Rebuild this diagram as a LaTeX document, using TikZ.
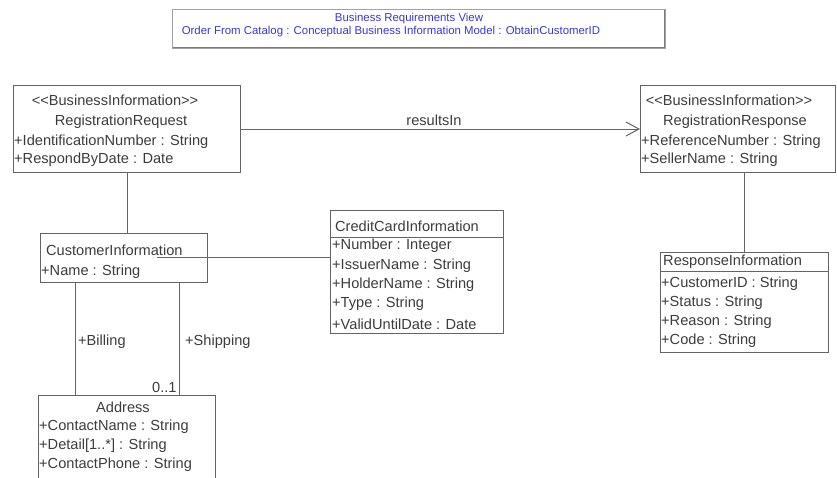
\documentclass[tikz,border=0pt]{standalone}
\usepackage{fontspec}
\setmainfont{Liberation Sans}
\usetikzlibrary{arrows.meta}
\definecolor{titleblue}{RGB}{55,55,215}
\definecolor{edge}{RGB}{100,100,100}
\definecolor{ink}{RGB}{60,60,60}
\begin{document}
\begin{tikzpicture}[x=1pt,y=-1pt,
  classbox/.style={draw=edge,line width=1pt,rectangle,inner sep=0pt,anchor=north west},
  txt/.style={text=ink,font=\fontsize{14.6}{16}\selectfont,inner sep=0pt,anchor=west},
  ctxt/.style={txt,anchor=center},
  ttxt/.style={text=titleblue,font=\fontsize{11.4}{13}\selectfont,inner sep=0pt,anchor=center},
  link/.style={draw=edge,line width=1pt}]
\useasboundingbox (0,0) rectangle (837,477);

% title box, with a darker shadow edge on the right and bottom
\node[draw=edge!60,line width=1.4pt,inner sep=0pt,anchor=north west,
      minimum width=493pt,minimum height=39pt] (title) at (172,9) {};
\draw[edge!85,line width=1pt] ([xshift=-2pt,yshift=-1pt]title.north east)
      -- ([xshift=-2pt,yshift=2pt]title.south east)
      -- ([xshift=1pt,yshift=2pt]title.south west);
\node[ttxt] (title1) at (409,19) {Business Requirements View};
\node[ttxt] (title2) at (391,32) {Order From Catalog : Conceptual Business Information Model : ObtainCustomerID};

% RegistrationRequest
\node[classbox,minimum width=227pt,minimum height=87pt] (rreq) at (13,85) {};
\node[ctxt] (rreqst) at (115,100) {<{}<BusinessInformation>{}>};
\node[ctxt] (rreqnm) at (121,122) {RegistrationRequest};
\node[txt] (rreqa1) at (14,142) {+IdentificationNumber : String};
\node[txt] (rreqa2) at (14,160) {+RespondByDate : Date};

% RegistrationResponse
\node[classbox,minimum width=195pt,minimum height=87pt] (rres) at (640,85) {};
\node[ctxt] (rresst) at (729,100) {<{}<BusinessInformation>{}>};
\node[ctxt] (rresnm) at (735,122) {RegistrationResponse};
\node[txt] (rresa1) at (641,142) {+ReferenceNumber : String};
\node[txt] (rresa2) at (641,160) {+SellerName : String};

% CustomerInformation
\node[classbox,minimum width=167pt,minimum height=49pt] (cust) at (40,233) {};
\node[txt] (custnm) at (46,250) {CustomerInformation};
\node[txt] (custa1) at (41,272) {+Name : String};

% CreditCardInformation
\node[classbox,minimum width=173pt,minimum height=123pt] (cc) at (330,210) {};
\draw[link] (330,237) -- (503,237);
\node[txt] (ccnm) at (335,226) {CreditCardInformation};
\node[txt] (cca1) at (332,246) {+Number : Integer};
\node[txt] (cca2) at (332,266) {+IssuerName : String};
\node[txt] (cca3) at (332,285) {+HolderName : String};
\node[txt] (cca4) at (332,304) {+Type : String};
\node[txt] (cca5) at (332,324) {+ValidUntilDate : Date};

% ResponseInformation
\node[classbox,minimum width=168pt,minimum height=100pt] (ri) at (660,252) {};
\draw[link] (660,271) -- (828,271);
\node[txt] (rinm) at (663,262) {ResponseInformation};
\node[txt] (ria1) at (661,284) {+CustomerID : String};
\node[txt] (ria2) at (661,303) {+Status : String};
\node[txt] (ria3) at (661,322) {+Reason : String};
\node[txt] (ria4) at (661,341) {+Code : String};

% Address
\node[classbox,minimum width=177pt,minimum height=87pt] (addr) at (38,395) {};
\node[ctxt] (addrnm) at (123,407) {Address};
\node[txt] (addra1) at (39,427) {+ContactName : String};
\node[txt] (addra2) at (39,446) {+Detail[1..*] : String};
\node[txt] (addra3) at (39,465) {+ContactPhone : String};

% connectors
\coordinate (xbill) at (75,0);
\coordinate (xship) at (179,0);
\coordinate (ccjoin) at (157,257);

\draw[link,-{Straight Barb[length=13pt,width=14pt,line width=1pt]}] (rreq.east) -- (rres.west);
\node[ctxt] (reslbl) at (434,120) {resultsIn};

\draw[link] (rreq.south) -- (rreq.south |- cust.north);
\draw[link] (rres.south -| ri.north) -- (ri.north);
\draw[link] (ccjoin) -- (ccjoin -| cc.west);

\draw[link] (cust.south -| xbill) -- (addr.north -| xbill);
\draw[link] (cust.south -| xship) -- (addr.north -| xship);
\node[txt] (billlbl) at (78,342) {+Billing};
\node[txt] (shiplbl) at (185,342) {+Shipping};
\node[txt] (multlbl) at (152,387) {0..1};
\end{tikzpicture}
\end{document}
